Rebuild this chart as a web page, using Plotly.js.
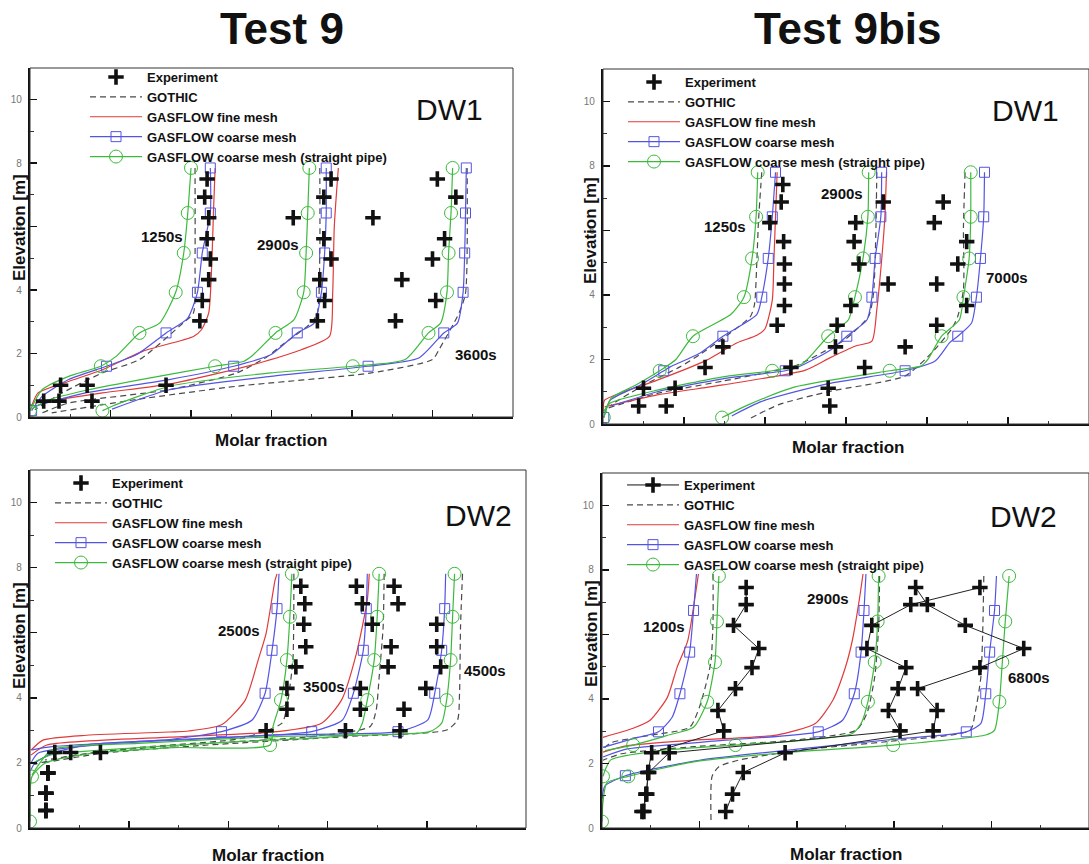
<!DOCTYPE html>
<html><head><meta charset="utf-8">
<script src="https://cdn.plot.ly/plotly-3.0.1.min.js"></script>
<style>html,body{margin:0;padding:0;background:#fff;}#chart{width:1089px;height:864px;}</style>
</head><body><div id="chart"></div>
<script>
// ================= DATA =================
// ---- Panel 1 : Test 9, DW1 ----
const t9dw1_nodes = [7.85, 6.43, 5.17, 3.93, 2.65, 1.6, 0.2];
const t9dw1_expElev = [7.5, 6.93, 6.28, 5.62, 4.98, 4.33, 3.67, 3.03, 1.0, 0.5];
const t9dw1_exp1250 = [0.220, 0.217, 0.222, 0.220, 0.224, 0.222, 0.214, 0.211, 0.038, 0.017];
const t9dw1_exp2900 = [0.374, 0.365, 0.327, 0.365, 0.374, 0.360, 0.366, 0.357, 0.071, 0.036];
const t9dw1_exp3600 = [0.506, 0.529, 0.426, 0.515, 0.500, 0.462, 0.504, 0.454, 0.169, 0.077];
const t9dw1_gothic1250 = [[0.205,7.85],[0.205,4.96],[0.203,3.28],[0.190,2.96],[0.136,1.81],[0.090,1.39],[0.040,0.76],[0.006,0.23]];
const t9dw1_fine1250 = [[0.230,7.85],[0.228,6.53],[0.226,4.96],[0.222,3.28],[0.213,2.75],[0.203,2.54],[0.140,2.07],[0.090,1.49],[0.048,1.12],[0.010,0.76],[0.002,0.34]];
const t9dw1_coarse1250 = [[0.224,7.85],[0.224,6.43],[0.214,5.17],[0.208,3.93],[0.196,3.12],[0.169,2.65],[0.132,1.96],[0.095,1.6],[0.048,1.18],[0.015,0.65],[0.002,0.2]];
const t9dw1_straight1250 = [[0.200,7.85],[0.196,6.43],[0.191,5.17],[0.181,3.93],[0.161,2.96],[0.136,2.65],[0.107,1.91],[0.088,1.6],[0.048,1.28],[0.015,0.86],[0.000,0.2]];
const t9dw1_gothic2900 = [[0.360,7.85],[0.360,5.17],[0.357,3.28],[0.349,2.96],[0.311,2.23],[0.295,1.91],[0.257,1.39],[0.173,0.86],[0.048,0.44],[0.015,0.13]];
const t9dw1_fine2900 = [[0.383,7.85],[0.378,6.0],[0.376,3.9],[0.372,2.54],[0.337,2.12],[0.291,1.75],[0.236,1.39],[0.169,1.02],[0.090,0.76],[0.006,0.44]];
const t9dw1_coarse2900 = [[0.368,7.85],[0.368,6.43],[0.366,5.17],[0.362,3.93],[0.353,2.96],[0.332,2.65],[0.299,1.96],[0.253,1.6],[0.173,1.18],[0.069,0.76],[0.006,0.34]];
const t9dw1_straight2900 = [[0.347,7.85],[0.345,6.43],[0.343,5.17],[0.340,3.93],[0.328,3.07],[0.305,2.65],[0.276,1.93],[0.265,1.75],[0.230,1.6],[0.153,1.25],[0.071,0.85],[0.021,0.52],[0.002,0.25]];
const t9dw1_gothic3600 = [[0.543,7.85],[0.541,3.9],[0.533,3.28],[0.508,2.12],[0.500,1.81],[0.424,1.39],[0.257,0.97],[0.132,0.55],[0.027,0.13]];
const t9dw1_coarse3600 = [[0.542,7.85],[0.541,6.43],[0.540,5.17],[0.538,3.93],[0.531,2.96],[0.514,2.65],[0.483,1.86],[0.420,1.6],[0.299,1.28],[0.173,0.86],[0.102,0.25]];
const t9dw1_straight3600 = [[0.525,7.85],[0.523,6.43],[0.520,5.17],[0.518,3.93],[0.510,2.96],[0.495,2.65],[0.466,1.81],[0.401,1.6],[0.299,1.39],[0.173,0.97],[0.102,0.34],[0.090,0.2]];

// ---- Panel 2 : Test 9bis, DW1 ----
const t9bdw1_nodes = [7.8, 6.42, 5.13, 3.93, 2.72, 1.65, 0.2];
const t9bdw1_expElev = [7.42, 6.88, 6.24, 5.65, 4.96, 4.34, 3.67, 3.06, 2.39, 1.75, 1.11, 0.56];
const t9bdw1_exp1250 = [0.222, 0.220, 0.206, 0.223, 0.224, 0.224, 0.224, 0.215, 0.148, 0.126, 0.050, 0.044];
const t9bdw1_exp2900 = [null, 0.346, 0.312, 0.310, 0.316, 0.352, 0.306, 0.289, 0.287, 0.232, 0.089, 0.078];
const t9bdw1_exp7000 = [null, 0.420, 0.409, 0.449, 0.438, 0.412, 0.449, 0.412, 0.373, 0.323, 0.278, 0.280];
const t9bdw1_gothic1250 = [[0.196,7.8],[0.192,6.31],[0.190,5.08],[0.187,3.70],[0.182,3.33],[0.157,2.82],[0.120,2.16],[0.095,1.77],[0.050,1.2],[0.010,0.6]];
const t9bdw1_fine1250 = [[0.215,7.8],[0.213,6.42],[0.211,5.08],[0.209,3.84],[0.200,2.95],[0.190,2.75],[0.165,2.51],[0.128,1.98],[0.067,1.36],[0.025,0.99],[0.002,0.74],[0.000,0.4]];
const t9bdw1_coarse1250 = [[0.213,7.8],[0.209,6.42],[0.204,5.13],[0.196,3.93],[0.190,3.4],[0.148,2.72],[0.120,2.2],[0.083,1.77],[0.075,1.65],[0.046,1.21],[0.009,0.74],[0.001,0.2]];
const t9bdw1_straight1250 = [[0.191,7.8],[0.189,6.42],[0.184,5.13],[0.174,3.93],[0.158,3.4],[0.111,2.72],[0.090,2.0],[0.070,1.65],[0.040,1.2],[0.010,0.8],[0.001,0.2]];
const t9bdw1_gothic2900 = [[0.338,7.8],[0.337,6.11],[0.334,4.06],[0.328,3.34],[0.299,2.62],[0.270,2.21],[0.237,1.80],[0.148,1.33],[0.067,0.95],[0.007,0.5]];
const t9bdw1_fine2900 = [[0.350,7.8],[0.348,6.42],[0.344,5.08],[0.338,3.54],[0.332,2.57],[0.311,2.41],[0.280,2.05],[0.250,1.67],[0.148,1.21],[0.067,0.9],[0.002,0.53]];
const t9bdw1_coarse2900 = [[0.344,7.8],[0.343,6.42],[0.336,5.13],[0.332,3.93],[0.326,3.23],[0.301,2.72],[0.282,2.31],[0.240,1.75],[0.225,1.65],[0.148,1.40],[0.067,1.0],[0.009,0.55]];
const t9bdw1_straight2900 = [[0.328,7.8],[0.327,6.42],[0.321,5.13],[0.311,3.93],[0.303,3.23],[0.278,2.72],[0.256,2.1],[0.245,1.85],[0.209,1.65],[0.148,1.46],[0.067,1.05],[0.009,0.65],[0.001,0.4]];
const t9bdw1_gothic7000 = [[0.447,7.8],[0.445,6.11],[0.445,4.16],[0.438,3.34],[0.430,2.93],[0.406,2.21],[0.373,1.49],[0.278,1.0],[0.217,0.6],[0.180,0.15]];
const t9bdw1_coarse7000 = [[0.471,7.8],[0.470,6.42],[0.466,5.13],[0.461,3.93],[0.455,3.13],[0.438,2.72],[0.428,2.52],[0.410,1.95],[0.373,1.65],[0.278,1.25],[0.196,0.7],[0.159,0.25]];
const t9bdw1_straight7000 = [[0.454,7.8],[0.454,6.42],[0.452,5.13],[0.445,3.93],[0.440,3.23],[0.418,2.72],[0.401,2.0],[0.393,1.80],[0.354,1.65],[0.237,1.15],[0.180,0.6],[0.147,0.2]];

// ---- Panel 3 : Test 9, DW2 ----
const t9dw2_circleNodes = [7.81, 6.49, 5.16, 3.93, 2.55, 1.58, 0.2];
const t9dw2_squareNodes = [6.74, 5.46, 4.14, 2.96, 0.2];
const t9dw2_expElev = [7.43, 6.89, 6.26, 5.57, 4.95, 4.29, 3.65, 2.99, 2.32, 1.69, 1.07, 0.54];
const t9dw2_exp2500 = [0.273, 0.277, 0.276, 0.278, 0.268, 0.259, 0.259, 0.238, 0.071, 0.018, 0.016, 0.016];
const t9dw2_exp3500 = [0.329, 0.335, 0.345, 0.364, 0.361, 0.333, 0.333, 0.318, 0.041, 0.018, 0.016, 0.016];
const t9dw2_exp4500 = [0.367, 0.371, 0.410, 0.410, 0.414, 0.399, 0.377, 0.373, 0.025, 0.018, 0.016, 0.016];
const t9dw2_gothic2500 = [[0.266,7.81],[0.265,5.16],[0.259,3.73],[0.254,3.22],[0.214,2.76],[0.109,2.47],[0.039,2.20],[0.004,1.95]];
const t9dw2_fine2500 = [[0.249,7.81],[0.247,7.61],[0.238,5.98],[0.230,5.16],[0.217,3.93],[0.193,3.17],[0.160,2.98],[0.141,2.95],[0.057,2.85],[0.013,2.70],[0.001,2.39]];
const t9dw2_coarse2500 = [[0.251,7.81],[0.249,6.74],[0.244,5.46],[0.237,4.14],[0.224,3.32],[0.193,2.96],[0.141,2.72],[0.060,2.57],[0.023,2.30],[0.005,2.0],[0.001,1.79]];
const t9dw2_straight2500 = [[0.264,7.81],[0.262,6.49],[0.259,5.16],[0.253,3.93],[0.245,3.12],[0.242,2.55],[0.144,2.47],[0.057,2.27],[0.015,1.99],[0.002,1.58],[0.000,0.2]];
const t9dw2_gothic3500 = [[0.357,7.81],[0.356,6.18],[0.352,4.65],[0.349,3.63],[0.343,3.12],[0.284,2.81],[0.179,2.60],[0.074,2.35],[0.015,2.09]];
const t9dw2_fine3500 = [[0.342,7.81],[0.340,7.0],[0.329,5.36],[0.314,3.93],[0.294,3.22],[0.249,2.96],[0.141,2.79],[0.017,2.55],[0.001,2.24]];
const t9dw2_coarse3500 = [[0.340,7.81],[0.339,6.74],[0.336,5.46],[0.326,4.14],[0.315,3.32],[0.284,2.96],[0.179,2.75],[0.074,2.57],[0.008,2.30],[0.001,2.0]];
const t9dw2_straight3500 = [[0.352,7.81],[0.350,6.49],[0.347,5.16],[0.340,3.93],[0.335,3.22],[0.329,2.91],[0.214,2.66],[0.109,2.47],[0.022,2.25],[0.002,1.99]];
const t9dw2_gothic4500 = [[0.436,7.81],[0.434,6.18],[0.433,4.14],[0.431,3.32],[0.420,3.01],[0.319,2.81],[0.179,2.55],[0.074,2.30],[0.011,1.99]];
const t9dw2_coarse4500 = [[0.419,7.81],[0.418,6.74],[0.415,5.46],[0.408,4.14],[0.401,3.32],[0.371,2.96],[0.249,2.86],[0.109,2.66],[0.022,2.50],[0.002,2.40]];
const t9dw2_straight4500 = [[0.428,7.81],[0.426,6.49],[0.424,5.16],[0.420,3.93],[0.415,3.22],[0.403,2.96],[0.249,2.81],[0.109,2.60],[0.022,2.40],[0.002,1.63]];

// ---- Panel 4 : Test 9bis, DW2 ----
const t9bdw2_circleNodes = [7.81, 6.4, 5.14, 3.91, 2.57, 1.6, 0.2];
const t9bdw2_squareNodes = [6.74, 5.45, 4.16, 2.98, 1.62];
const t9bdw2_expElev = [7.45, 6.92, 6.28, 5.56, 4.97, 4.32, 3.64, 3.01, 2.33, 1.72, 1.05, 0.51];
const t9bdw2_exp1200 = [0.148, 0.148, 0.135, 0.161, 0.154, 0.137, 0.119, 0.125, 0.051, 0.047, 0.046, 0.041];
const t9bdw2_exp2900 = [0.388, 0.317, 0.277, 0.272, 0.312, 0.304, 0.294, 0.306, 0.069, 0.048, 0.045, 0.043];
const t9bdw2_exp6800 = [0.322, 0.334, 0.373, 0.433, 0.388, 0.324, 0.344, 0.340, 0.188, 0.145, 0.134, 0.127];
const t9bdw2_gothic1200 = [[0.114,7.87],[0.114,6.43],[0.112,5.19],[0.108,4.6],[0.100,3.74],[0.090,3.12],[0.049,2.87],[0.010,2.65],[0.001,2.45]];
const t9bdw2_fine1200 = [[0.099,7.87],[0.096,7.25],[0.088,5.8],[0.077,4.97],[0.067,4.04],[0.049,3.33],[0.032,3.09],[0.001,2.81]];
const t9bdw2_coarse1200 = [[0.097,7.87],[0.094,6.74],[0.090,5.45],[0.080,4.16],[0.072,3.43],[0.058,2.98],[0.032,2.77],[0.001,2.5]];
const t9bdw2_straight1200 = [[0.120,7.81],[0.118,6.4],[0.116,5.14],[0.108,3.91],[0.094,3.12],[0.067,2.87],[0.032,2.57],[0.003,2.4]];
const t9bdw2_gothic2900 = [[0.285,7.81],[0.284,6.22],[0.280,4.68],[0.272,3.55],[0.261,3.03],[0.196,2.72],[0.094,2.52],[0.020,2.3],[0.001,2.1]];
const t9bdw2_fine2900 = [[0.268,7.87],[0.264,7.04],[0.257,5.81],[0.250,4.99],[0.237,3.96],[0.219,3.24],[0.179,2.88],[0.094,2.72],[0.026,2.55],[0.001,2.35]];
const t9bdw2_coarse2900 = [[0.271,7.87],[0.269,6.74],[0.266,5.45],[0.259,4.16],[0.247,3.34],[0.222,2.98],[0.128,2.72],[0.026,2.45],[0.001,2.2]];
const t9bdw2_straight2900 = [[0.284,7.81],[0.283,6.4],[0.280,5.14],[0.273,3.91],[0.266,3.24],[0.257,2.93],[0.200,2.7],[0.137,2.57],[0.060,2.40],[0.009,2.11],[0.001,1.6]];
const t9bdw2_gothic6800 = [[0.392,7.81],[0.391,6.22],[0.389,4.68],[0.383,3.55],[0.378,3.03],[0.300,2.7],[0.200,2.4],[0.140,2.1],[0.120,1.9],[0.113,1.6],[0.112,0.15]];
const t9bdw2_coarse6800 = [[0.405,7.81],[0.403,6.74],[0.398,5.45],[0.394,4.16],[0.389,3.24],[0.374,2.98],[0.300,2.75],[0.203,2.45],[0.100,2.1],[0.024,1.62],[0.003,1.3],[0.000,0.9]];
const t9bdw2_straight6800 = [[0.418,7.81],[0.414,6.4],[0.411,5.14],[0.408,3.91],[0.403,3.03],[0.394,2.88],[0.299,2.57],[0.186,2.33],[0.094,2.05],[0.027,1.6],[0.005,1.4],[0.001,0.8],[0.000,0.2]];

// ---- text ----
const columnTitles = ['Test 9', 'Test 9bis'];
const seriesNames = ['Experiment', 'GOTHIC', 'GASFLOW fine mesh', 'GASFLOW coarse mesh', 'GASFLOW coarse mesh (straight pipe)'];
const xTitle = 'Molar fraction';
const yTitle = 'Elevation [m]';

// ================= BUILD =================
const FONT = 'Liberation Sans, Arial, Helvetica, sans-serif';
const W = 1089, H = 864;
const fx = v => v / W, fy = v => 1 - v / H;
const COL = {exp: '#111111', gothic: '#4a4a4a', fine: '#e03a3a', coarse: '#5454e4', straight: '#3cba3c'};

const panels = [
  {id: '', leg: 'legend', box: [30, 513, 68, 417], xmax: 0.6, station: 'DW1', stationPos: [449, 109],
   expLines: false, expElev: t9dw1_expElev, exps: [t9dw1_exp1250, t9dw1_exp2900, t9dw1_exp3600],
   gothic: [t9dw1_gothic1250, t9dw1_gothic2900, t9dw1_gothic3600], fine: [t9dw1_fine1250, t9dw1_fine2900],
   coarse: [t9dw1_coarse1250, t9dw1_coarse2900, t9dw1_coarse3600], straight: [t9dw1_straight1250, t9dw1_straight2900, t9dw1_straight3600],
   sqNodes: t9dw1_nodes, ciNodes: t9dw1_nodes,
   times: [['1250s', 162, 236], ['2900s', 278, 244], ['3600s', 476, 354]],
   legPos: [85, 62], xTitlePos: [271, 440], yTitlePos: [20, 228]},
  {id: '2', leg: 'legend2', box: [603, 1089, 69, 424], xmax: 0.6, station: 'DW1', stationPos: [1025, 111],
   expLines: false, expElev: t9bdw1_expElev, exps: [t9bdw1_exp1250, t9bdw1_exp2900, t9bdw1_exp7000],
   gothic: [t9bdw1_gothic1250, t9bdw1_gothic2900, t9bdw1_gothic7000], fine: [t9bdw1_fine1250, t9bdw1_fine2900],
   coarse: [t9bdw1_coarse1250, t9bdw1_coarse2900, t9bdw1_coarse7000], straight: [t9bdw1_straight1250, t9bdw1_straight2900, t9bdw1_straight7000],
   sqNodes: t9bdw1_nodes, ciNodes: t9bdw1_nodes,
   times: [['1250s', 725, 226], ['2900s', 842, 193], ['7000s', 1007, 277]],
   legPos: [623, 67], xTitlePos: [848, 447], yTitlePos: [590, 231]},
  {id: '3', leg: 'legend3', box: [30, 526, 470, 828], xmax: 0.5, station: 'DW2', stationPos: [478, 515],
   expLines: false, expElev: t9dw2_expElev, exps: [t9dw2_exp2500, t9dw2_exp3500, t9dw2_exp4500],
   gothic: [t9dw2_gothic2500, t9dw2_gothic3500, t9dw2_gothic4500], fine: [t9dw2_fine2500, t9dw2_fine3500],
   coarse: [t9dw2_coarse2500, t9dw2_coarse3500, t9dw2_coarse4500], straight: [t9dw2_straight2500, t9dw2_straight3500, t9dw2_straight4500],
   sqNodes: t9dw2_squareNodes, ciNodes: t9dw2_circleNodes,
   times: [['2500s', 239, 630], ['3500s', 324, 686], ['4500s', 485, 670]],
   legPos: [50, 468], xTitlePos: [268, 855], yTitlePos: [19, 636]},
  {id: '4', leg: 'legend4', box: [602, 1089, 473, 828], xmax: 0.5, station: 'DW2', stationPos: [1023, 516],
   expLines: true, expElev: t9bdw2_expElev, exps: [t9bdw2_exp1200, t9bdw2_exp2900, t9bdw2_exp6800],
   gothic: [t9bdw2_gothic1200, t9bdw2_gothic2900, t9bdw2_gothic6800], fine: [t9bdw2_fine1200, t9bdw2_fine2900],
   coarse: [t9bdw2_coarse1200, t9bdw2_coarse2900, t9bdw2_coarse6800], straight: [t9bdw2_straight1200, t9bdw2_straight2900, t9bdw2_straight6800],
   sqNodes: t9bdw2_squareNodes, ciNodes: t9bdw2_circleNodes,
   times: [['1200s', 664, 626], ['2900s', 828, 598], ['6800s', 1029, 677]],
   legPos: [622, 470], xTitlePos: [846, 854], yTitlePos: [591, 634]}
];

const traces = [];
const layout = {
  width: W, height: H, margin: {l: 0, r: 0, t: 0, b: 0},
  paper_bgcolor: '#fff', plot_bgcolor: '#fff', showlegend: true,
  font: {family: FONT, color: '#111'}, annotations: [], shapes: []
};

const expMarker = {symbol: 'cross-thin', size: 11, color: COL.exp, line: {width: 3.6, color: COL.exp}};
const sqMarker = {symbol: 'square-open', size: 10, color: COL.coarse, line: {width: 1, color: COL.coarse}};
const ciMarker = {symbol: 'circle-open', size: 13, color: COL.straight, line: {width: 1, color: COL.straight}};

panels.forEach(p => {
  const xa = 'x' + p.id, ya = 'y' + p.id;
  const base = {xaxis: xa, yaxis: ya, legend: p.leg, hoverinfo: 'skip', cliponaxis: true};
  // legend entries
  traces.push(Object.assign({}, base, {x: [null], y: [null], name: seriesNames[0], mode: p.expLines ? 'lines+markers' : 'markers', marker: expMarker, line: {color: COL.exp, width: 1}}));
  traces.push(Object.assign({}, base, {x: [null], y: [null], name: seriesNames[1], mode: 'lines', line: {color: COL.gothic, width: 1.2, dash: '6px,4px'}}));
  traces.push(Object.assign({}, base, {x: [null], y: [null], name: seriesNames[2], mode: 'lines', line: {color: COL.fine, width: 1.2}}));
  traces.push(Object.assign({}, base, {x: [null], y: [null], name: seriesNames[3], mode: 'lines+markers', marker: sqMarker, line: {color: COL.coarse, width: 1.2}}));
  traces.push(Object.assign({}, base, {x: [null], y: [null], name: seriesNames[4], mode: 'lines+markers', marker: ciMarker, line: {color: COL.straight, width: 1.2}}));
  const line = (pts, color, dash) => Object.assign({}, base, {x: pts.map(q => q[0]), y: pts.map(q => q[1]), mode: 'lines', showlegend: false, line: {color: color, width: 1.2, dash: dash || 'solid', shape: 'spline', smoothing: 0.6}});
  const nodes = (pts, list, marker) => {
    const sel = pts.filter(q => list.includes(q[1]));
    return Object.assign({}, base, {x: sel.map(q => q[0]), y: sel.map(q => q[1]), mode: 'markers', showlegend: false, marker: marker});
  };
  p.gothic.forEach(c => traces.push(line(c, COL.gothic, '6px,4px')));
  p.fine.forEach(c => traces.push(line(c, COL.fine)));
  p.coarse.forEach(c => { traces.push(line(c, COL.coarse)); traces.push(nodes(c, p.sqNodes, sqMarker)); });
  p.straight.forEach(c => { traces.push(line(c, COL.straight)); traces.push(nodes(c, p.ciNodes, ciMarker)); });
  p.exps.forEach(e => traces.push(Object.assign({}, base, {x: e, y: p.expElev, mode: p.expLines ? 'lines+markers' : 'markers', showlegend: false, marker: expMarker, line: {color: '#222', width: 1}, connectgaps: false})));

  const [l, r, t, b] = p.box;
  layout['xaxis' + p.id] = {
    domain: [fx(l), fx(r)], anchor: ya, range: [0, p.xmax], tick0: 0, dtick: 0.1,
    showticklabels: false, ticks: 'inside', ticklen: 7, tickwidth: 1.5, tickcolor: '#111',
    minor: {ticks: 'inside', ticklen: 3.5, tickwidth: 1, tickcolor: '#333', dtick: 0.05},
    showline: true, linewidth: 2.2, linecolor: '#111', showgrid: false, zeroline: false, fixedrange: true
  };
  layout['yaxis' + p.id] = {
    domain: [fy(b), fy(t)], anchor: xa, range: [0, 11], tick0: 0, dtick: 2,
    ticks: 'inside', ticklen: 7, tickwidth: 1.5, tickcolor: '#111',
    minor: {ticks: 'inside', ticklen: 3.5, tickwidth: 1, tickcolor: '#333', dtick: 1},
    tickfont: {size: 10, color: '#777', family: FONT}, ticklabelstandoff: 4,
    showline: true, linewidth: 2.2, linecolor: '#111', showgrid: false, zeroline: false, fixedrange: true
  };
  layout[p.leg] = {
    x: fx(p.legPos[0]), y: fy(p.legPos[1]), xanchor: 'left', yanchor: 'top',
    bgcolor: 'rgba(0,0,0,0)', borderwidth: 0, itemwidth: 52, tracegroupgap: 0,
    font: {family: FONT, size: 13, color: '#111', weight: 'bold'}
  };
  layout.shapes.push({type: 'rect', xref: xa + ' domain', yref: ya + ' domain', x0: 0, x1: 1, y0: 0, y1: 1, line: {color: '#333', width: 1}});
  const ann = (text, x, y, size, bold, angle) => layout.annotations.push({
    text: text, x: fx(x), y: fy(y), xref: 'paper', yref: 'paper', xanchor: 'center', yanchor: 'middle',
    showarrow: false, textangle: angle || 0, font: {family: FONT, size: size, color: '#111', weight: bold ? 'bold' : 'normal'}
  });
  ann(p.station, p.stationPos[0], p.stationPos[1], 30, false);
  p.times.forEach(tm => ann(tm[0], tm[1], tm[2], 15, true));
  ann(xTitle, p.xTitlePos[0], p.xTitlePos[1], 17, true);
  ann(yTitle, p.yTitlePos[0], p.yTitlePos[1], 17, true, -90);
});

layout.annotations.push({text: columnTitles[0], x: fx(282), y: fy(28), xref: 'paper', yref: 'paper', showarrow: false, xanchor: 'center', yanchor: 'middle', font: {family: FONT, size: 44, color: '#111', weight: 'bold'}});
layout.annotations.push({text: columnTitles[1], x: fx(848), y: fy(28), xref: 'paper', yref: 'paper', showarrow: false, xanchor: 'center', yanchor: 'middle', font: {family: FONT, size: 44, color: '#111', weight: 'bold'}});

Plotly.newPlot('chart', traces, layout, {staticPlot: true, displayModeBar: false});
</script>
</body></html>
